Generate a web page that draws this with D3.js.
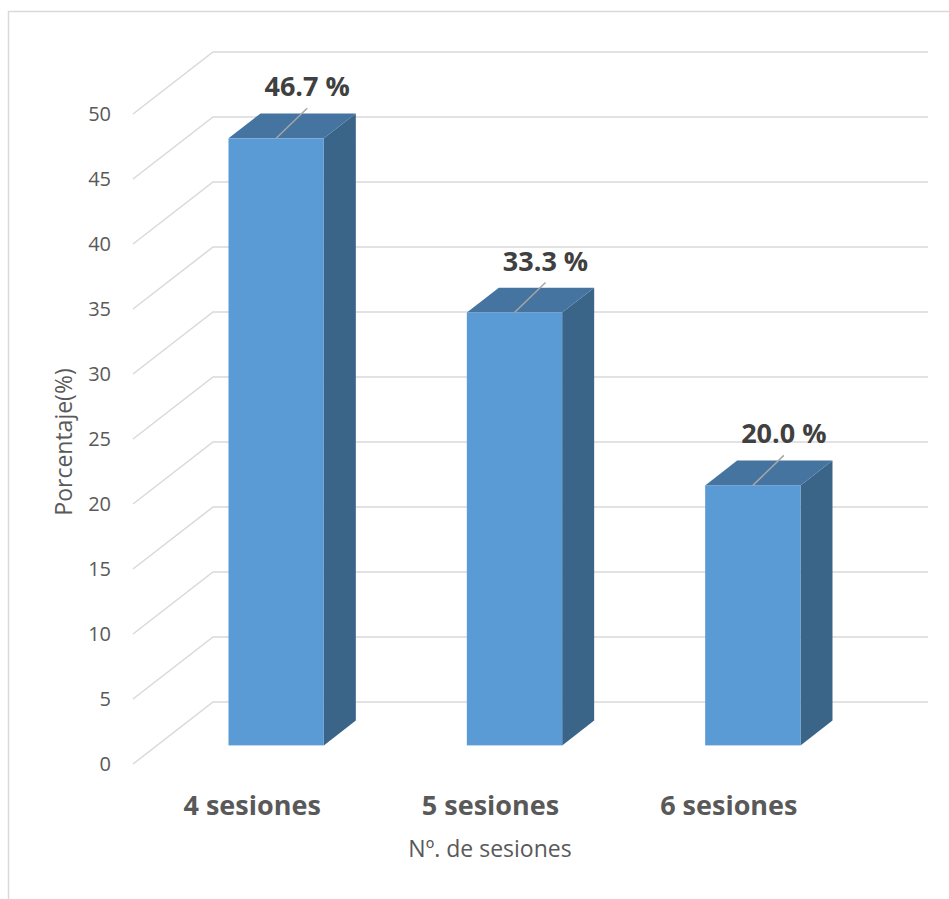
<!DOCTYPE html>
<html>
<head>
<meta charset="utf-8">
<script src="https://cdn.jsdelivr.net/npm/d3@7"></script>
<style>
   body { margin: 0; background: #fff; }
   svg { display: block; font-family: "Open Sans", Lato, sans-serif; }
</style>
</head>
<body>
<div id="chart"></div>
<script>
// Chart values
const categories = ["4 sesiones", "5 sesiones", "6 sesiones"];
const values = [46.7, 33.3, 20.0];
const valueLabels = ["46.7 %", "33.3 %", "20.0 %"];
const yTicks = [0, 5, 10, 15, 20, 25, 30, 35, 40, 45, 50];
const yTitle = "Porcentaje(%)";
const xTitle = "Nº. de sesiones";

const width = 949, height = 899;

let svg = d3.select("#chart")
   .append("svg")
   .attr("width", width)
   .attr("height", height);

// Outer chart border (right and bottom edges fall outside the picture)
svg.append("rect")
   .attr("x", 8.5).attr("y", 11.5)
   .attr("width", 960).attr("height", 920)
   .attr("fill", "none")
   .attr("stroke", "#d9d9d9")
   .attr("stroke-width", 1.5);

// Front plane floor and scales
const floorY = 764;
let x = d3.scaleBand()
   .domain(categories)
   .range([133, 848])
   .paddingInner(0.6)
   .paddingOuter(0.3);
let y = d3.scaleLinear()
   .domain([0, 50])
   .range([0, 650]);
// depth offset (oblique projection)
let zx = d3.scaleLinear().domain([0, 1]).range([0, 80]);
let zy = d3.scaleLinear().domain([0, 1]).range([0, -62]);

function pt(px, v, z) {
   return [px + zx(z), floorY - y(v) + zy(z)];
}

// Gridlines: floor-side diagonal + back wall
let grid = svg.append("g").attr("fill", "none")
   .attr("stroke", "#d9d9d9").attr("stroke-width", 1.5);
yTicks.forEach(function(t) {
   let a = pt(133, t, 0), b = pt(133, t, 1), c = pt(848, t, 1);
   grid.append("path")
      .attr("d", "M" + a + "L" + b + "L" + c);
});

// Tick labels
svg.append("g")
   .selectAll("text")
   .data(yTicks)
   .enter()
   .append("text")
   .attr("x", 111)
   .attr("y", function(d) { return floorY - y(d); })
   .attr("dy", "0.35em")
   .attr("text-anchor", "end")
   .attr("font-size", 20)
   .attr("fill", "#595959")
   .text(function(d) { return d; });

// Bars
const z0 = 0.3, z1 = 0.7;
let bars = svg.append("g");
categories.forEach(function(c, i) {
   let v = values[i];
   let x0 = x(c), x1 = x(c) + x.bandwidth();
   let g = bars.append("g");
   // side face
   g.append("path")
      .attr("d", "M" + pt(x1, 0, z0) + "L" + pt(x1, 0, z1) + "L" + pt(x1, v, z1) + "L" + pt(x1, v, z0) + "Z")
      .attr("fill", "#3a6588");
   // top face
   g.append("path")
      .attr("d", "M" + pt(x0, v, z0) + "L" + pt(x0, v, z1) + "L" + pt(x1, v, z1) + "L" + pt(x1, v, z0) + "Z")
      .attr("fill", "#44749f");
   // front face
   let f0 = pt(x0, v, z0), f1 = pt(x1, 0, z0);
   g.append("rect")
      .attr("x", f0[0]).attr("y", f0[1])
      .attr("width", f1[0] - f0[0])
      .attr("height", f1[1] - f0[1])
      .attr("fill", "#5b9bd5");
});

// Data labels with leader lines
let labels = svg.append("g");
categories.forEach(function(c, i) {
   let top = pt(x(c) + x.bandwidth() / 2, values[i], z0);
   let end = [top[0] + 31, top[1] - 30];
   labels.append("line")
      .attr("x1", top[0]).attr("y1", top[1])
      .attr("x2", end[0]).attr("y2", end[1])
      .attr("stroke", "#a6a6a6").attr("stroke-width", 1.5);
   labels.append("text")
      .attr("x", end[0])
      .attr("y", end[1] - 12)
      .attr("text-anchor", "middle")
      .attr("font-size", 27)
      .attr("font-weight", "bold")
      .attr("fill", "#404040")
      .text(valueLabels[i]);
});

// Category labels
svg.append("g")
   .selectAll("text")
   .data(categories)
   .enter()
   .append("text")
   .attr("x", function(d) { return x(d) + x.bandwidth() / 2; })
   .attr("y", 815)
   .attr("text-anchor", "middle")
   .attr("font-size", 27)
   .attr("font-weight", "bold")
   .attr("fill", "#595959")
   .text(function(d) { return d; });

// Axis titles
svg.append("text")
   .attr("x", 490).attr("y", 857)
   .attr("text-anchor", "middle")
   .attr("font-size", 23)
   .attr("fill", "#595959")
   .text(xTitle);

svg.append("text")
   .attr("transform", "translate(72,442) rotate(-90)")
   .attr("text-anchor", "middle")
   .attr("font-size", 23)
   .attr("fill", "#595959")
   .text(yTitle);
</script>
</body>
</html>
